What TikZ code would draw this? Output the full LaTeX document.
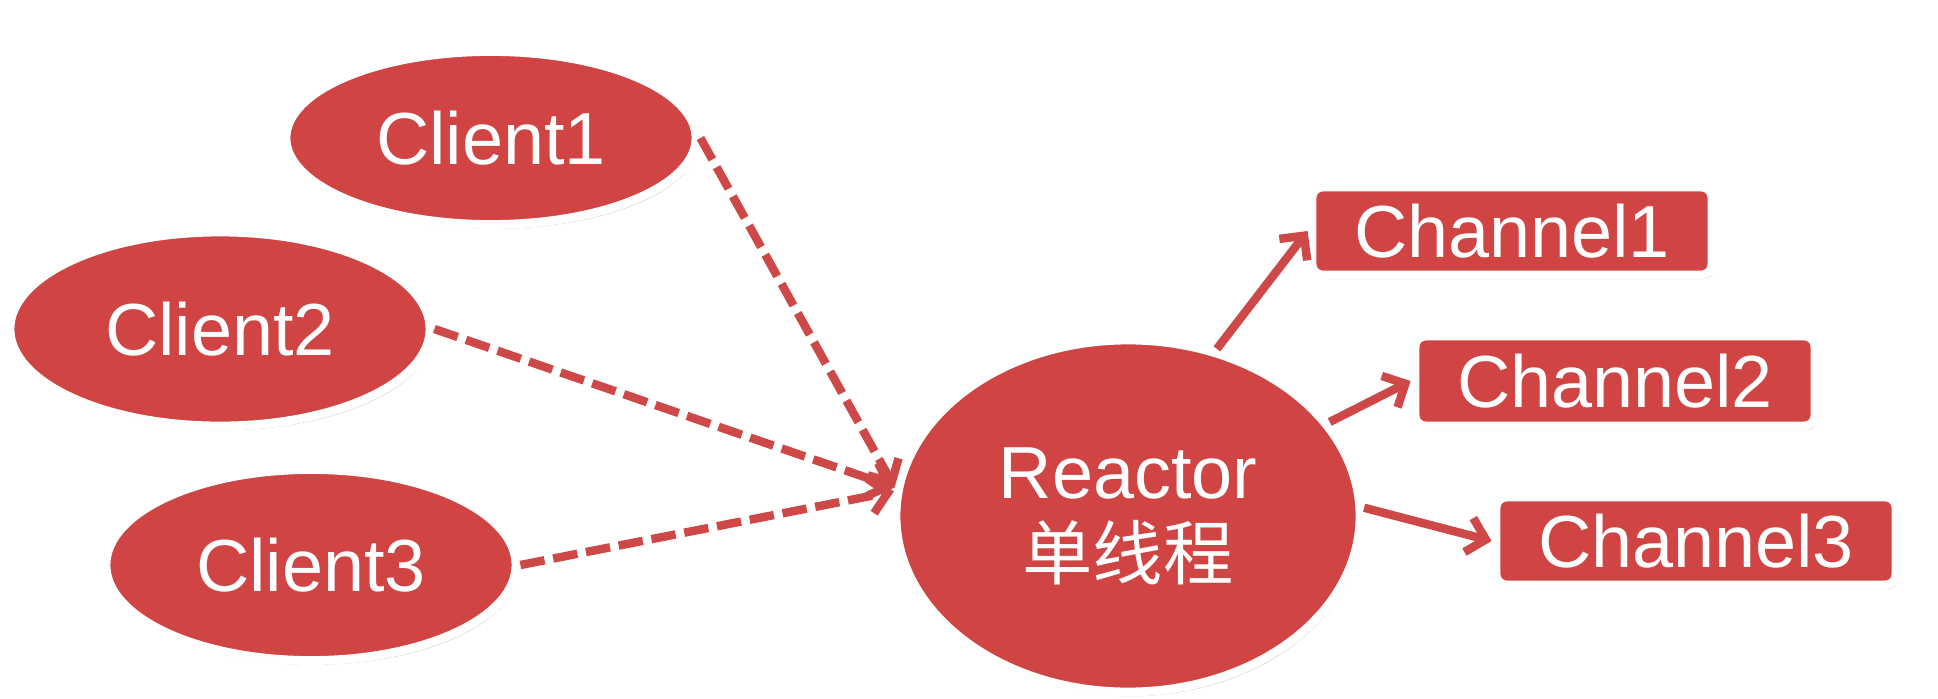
\documentclass[tikz,border=0pt]{standalone}
\usepackage{fontspec}
\setmainfont{Liberation Sans}
\newfontfamily\cjk{Noto Sans CJK SC}
\usepackage{tikz}
\usetikzlibrary{arrows.meta, positioning, shapes.geometric, shadows}

\definecolor{boxred}{RGB}{208,68,68}
\definecolor{linkred}{RGB}{206,72,72}

\begin{document}
\begin{tikzpicture}[
    every node/.style={fill=boxred, draw=white, line width=2.5pt, text=white,
        font=\fontsize{21}{24}\selectfont,
        drop shadow={shadow xshift=0.6pt, shadow yshift=-1.2pt, fill=black, opacity=0.3}},
    client_node/.style={ellipse, minimum width=4.1cm, minimum height=1.85cm, inner sep=0pt},
    reactor_node/.style={ellipse, minimum width=4.64cm, minimum height=3.52cm, inner sep=0pt, align=center},
    channel_node/.style={rectangle, rounded corners=3pt, minimum width=4cm, minimum height=0.88cm, inner sep=0pt},
    request/.style={-{Straight Barb[length=5pt, width=10pt]}, line width=2.4pt, color=linkred, dash pattern=on 7pt off 2.5pt},
    dispatch/.style={-{Straight Barb[length=5pt, width=10pt]}, line width=2.4pt, color=linkred}
]
\useasboundingbox (0,0) rectangle (19.38,6.98);

% Nodes
\node[client_node, minimum height=1.73cm] (C1) at (4.91, 5.60) {Client1};
\node[client_node, minimum width=4.2cm, minimum height=1.94cm] (C2) at (2.20, 3.69) {Client2};
\node[client_node, minimum height=1.91cm] (C3) at (3.11, 1.33) {Client3};
\node[reactor_node] (R) at (11.28, 1.82) {Reactor\\[-1pt]{\cjk\fontsize{20}{22}\selectfont 单线程}};
\node[channel_node] (Ch1) at (15.12, 4.67) {Channel1};
\node[channel_node, minimum height=0.9cm] (Ch2) at (16.15, 3.17) {Channel2};
\node[channel_node] (Ch3) at (16.96, 1.57) {Channel3};

% Edges
\draw[request] (C1.east) -- (R.173);
\draw[request] (C2.east) -- (R.173);
\draw[request] (C3.east) -- (R.174);

\draw[dispatch] (R.62) -- (Ch1.west);
\draw[dispatch] (R.25) -- (Ch2.west);
\draw[dispatch] (R.2) -- (Ch3.west);

\end{tikzpicture}
\end{document}
